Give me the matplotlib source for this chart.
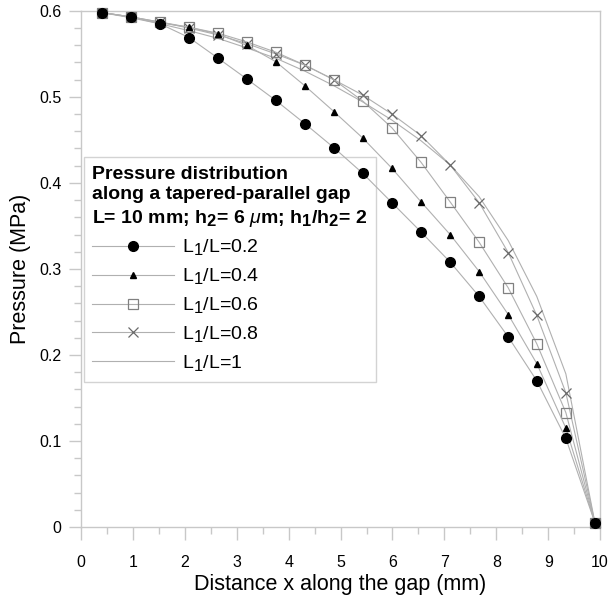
import matplotlib
matplotlib.use("Agg")
import matplotlib.pyplot as plt
import matplotlib._mathtext as mathtext_internal
from matplotlib.ticker import MultipleLocator, FuncFormatter

plt.rcParams['font.family'] = ['Liberation Sans', 'DejaVu Sans']
plt.rcParams['mathtext.fontset'] = 'custom'
plt.rcParams['mathtext.rm'] = 'Liberation Sans'
plt.rcParams['mathtext.it'] = 'Liberation Sans:italic'
plt.rcParams['mathtext.bf'] = 'Liberation Sans:bold'
# subscripts in the original are nearly full size
mathtext_internal.SHRINK_FACTOR = 0.85

# distance along the gap (mm)
x_mm = [0.40, 0.96, 1.52, 2.08, 2.64, 3.19, 3.75, 4.31, 4.87,
        5.43, 5.99, 6.55, 7.11, 7.67, 8.23, 8.78, 9.34, 9.90]

# pressure (MPa) for each L1/L ratio
p_02 = [0.598, 0.593, 0.585, 0.569, 0.545, 0.521, 0.496, 0.469, 0.441,
        0.411, 0.377, 0.343, 0.308, 0.268, 0.221, 0.170, 0.103, 0.005]
p_04 = [0.598, 0.593, 0.586, 0.581, 0.573, 0.560, 0.541, 0.513, 0.483,
        0.452, 0.417, 0.378, 0.340, 0.297, 0.247, 0.190, 0.115, 0.005]
p_06 = [0.598, 0.593, 0.587, 0.581, 0.574, 0.564, 0.552, 0.537, 0.520,
        0.495, 0.464, 0.424, 0.378, 0.331, 0.278, 0.213, 0.133, 0.005]
p_08 = [0.598, 0.593, 0.587, 0.580, 0.572, 0.562, 0.550, 0.537, 0.520,
        0.502, 0.480, 0.455, 0.421, 0.377, 0.319, 0.246, 0.156, 0.005]
p_10 = [0.598, 0.592, 0.585, 0.577, 0.568, 0.557, 0.545, 0.530, 0.513,
        0.494, 0.473, 0.449, 0.421, 0.384, 0.333, 0.268, 0.178, 0.005]

labels = ['L$_1$/L=0.2', 'L$_1$/L=0.4', 'L$_1$/L=0.6', 'L$_1$/L=0.8', 'L$_1$/L=1']

line_col = '#b0b0b0'
frame_col = '#c8c8c8'

fig = plt.figure(figsize=(6.1, 6.03), dpi=100)
ax = fig.add_axes([0.1328, 0.126, 0.851, 0.856])

# circles and triangles sit on top of the open markers
ax.plot(x_mm, p_02, color=line_col, lw=0.8, marker='o', ms=7,
        mfc='black', mec='black', label=labels[0], clip_on=False, zorder=6)
ax.plot(x_mm, p_04, color=line_col, lw=0.8, marker='^', ms=5,
        mfc='black', mec='black', label=labels[1], clip_on=False, zorder=5)
ax.plot(x_mm, p_06, color=line_col, lw=0.8, marker='s', ms=7,
        mfc='none', mec='#808080', mew=0.9, label=labels[2], clip_on=False, zorder=4)
ax.plot(x_mm, p_08, color=line_col, lw=0.8, marker='x', ms=7.5,
        mec='#6a6a6a', mew=0.9, label=labels[3], clip_on=False, zorder=3)
ax.plot(x_mm, p_10, color=line_col, lw=0.8, label=labels[4], clip_on=False, zorder=2)

ax.set_xlim(0, 10)
ax.set_ylim(0, 0.6)
ax.xaxis.set_major_locator(MultipleLocator(1))
ax.xaxis.set_minor_locator(MultipleLocator(0.5))
ax.yaxis.set_major_locator(MultipleLocator(0.1))
ax.yaxis.set_minor_locator(MultipleLocator(0.02))
ax.yaxis.set_major_formatter(FuncFormatter(lambda v, pos: '0' if abs(v) < 1e-9 else f'{v:.1f}'))

for s in ax.spines.values():
    s.set_color(frame_col)
    s.set_linewidth(1.0)
ax.tick_params(which='major', direction='out', length=9, width=1, color=frame_col,
               labelsize=11.5, labelcolor='black')
ax.tick_params(which='minor', direction='out', length=5, width=1, color=frame_col)
ax.tick_params(axis='x', which='major', pad=11)
ax.tick_params(axis='y', which='major', pad=5)

ax.set_xlabel('Distance x along the gap (mm)', fontsize=15.5, labelpad=3)
ax.set_ylabel('Pressure (MPa)', fontsize=15.5, labelpad=6)

title = ('Pressure distribution\nalong a tapered-parallel gap\n'
         'L= 10 mm; h$_\\mathbf{2}$= 6 $\\mu$m; h$_\\mathbf{1}$/h$_\\mathbf{2}$= 2')
leg = ax.legend(loc='upper left', bbox_to_anchor=(0.005, 0.717), borderaxespad=0,
                title=title, title_fontproperties={'weight': 'bold', 'size': 14},
                fontsize=14, numpoints=1, handlelength=4.2, handletextpad=0.4,
                labelspacing=0.46, fancybox=False, frameon=True, alignment='left',
                borderpad=0.45)
leg.get_title().set_linespacing(1.28)
leg.get_frame().set_edgecolor(frame_col)
leg.get_frame().set_linewidth(1.0)

fig.savefig('out.png', dpi=100)
